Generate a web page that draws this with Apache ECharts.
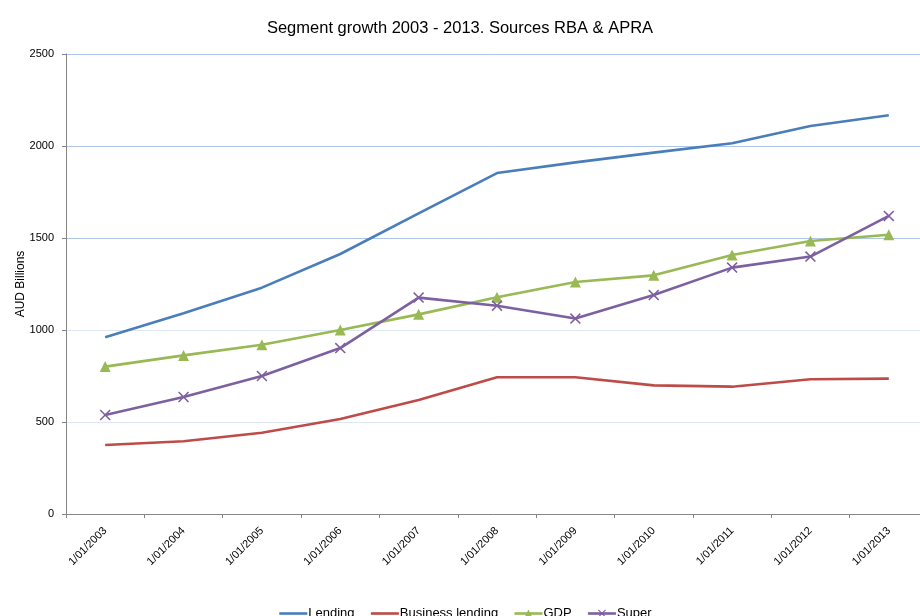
<!DOCTYPE html>
<html>
<head>
<meta charset="utf-8">
<script src="https://cdn.jsdelivr.net/npm/echarts@6/dist/echarts.min.js"></script>
<style>
  html, body { margin: 0; padding: 0; background: #fff; }
  #chart { width: 920px; height: 616px; }
</style>
</head>
<body>
<div id="chart"></div>
<script>
// Year labels along the category axis
var categories = ['1/01/2003', '1/01/2004', '1/01/2005', '1/01/2006', '1/01/2007', '1/01/2008',
                  '1/01/2009', '1/01/2010', '1/01/2011', '1/01/2012', '1/01/2013'];

// AUD billions per segment
var lending         = [960, 1091, 1230, 1413, 1634, 1853, 1911, 1964, 2015, 2109, 2167];
var businessLending = [375, 395, 442, 516, 620, 743, 743, 699, 692, 732, 736];
var gdp             = [801, 862, 920, 1000, 1085, 1178, 1261, 1297, 1408, 1484, 1518];
var superFunds      = [538, 636, 750, 902, 1176, 1132, 1062, 1190, 1339, 1399, 1620];

// Value axis ticks
var yMin = 0, yMax = 2500, yStep = 500;

var font = 'Liberation Sans, Arial, sans-serif';
var crossPath = 'path://M0,1L1,0L5,4L9,0L10,1L6,5L10,9L9,10L5,6L1,10L0,9L4,5Z';
// zero-area marker so plain lines keep a bare line in the legend
var blankPath = 'path://M0,0L1,1';

function lineSeries(name, data, color, symbol, symbolSize) {
  return {
    name: name,
    type: 'line',
    data: data,
    symbol: symbol || blankPath,
    symbolSize: symbolSize || 1,
    showSymbol: !!symbol,
    animation: false,
    lineStyle: { color: color, width: 2.6 },
    itemStyle: { color: color }
  };
}

var chart = echarts.init(document.getElementById('chart'));
chart.setOption({
  backgroundColor: '#ffffff',
  animation: false,
  title: {
    text: 'Segment growth 2003 - 2013. Sources RBA & APRA',
    left: 'center',
    top: 15,
    textStyle: { fontFamily: font, fontSize: 16.5, fontWeight: 'normal', color: '#000' }
  },
  legend: {
    top: 607,
    left: 278,
    padding: 0,
    orient: 'horizontal',
    itemWidth: 28,
    itemHeight: 10,
    itemGap: 15,
    lineStyle: { width: 2.6 },
    textStyle: { fontFamily: font, fontSize: 13, color: '#000', padding: [3, 0, 0, -4] },
    data: ['Lending', 'Business lending', 'GDP', 'Super']
  },
  grid: { left: 66, top: 54, width: 862, height: 460, containLabel: false, outerBoundsMode: 'none' },
  xAxis: {
    type: 'category',
    data: categories,
    boundaryGap: true,
    axisLine: { lineStyle: { color: '#868686', width: 1 } },
    axisTick: { show: true, length: 4, alignWithLabel: false, lineStyle: { color: '#868686' } },
    axisLabel: { rotate: 45, margin: 15, fontFamily: font, fontSize: 11, color: '#000', interval: 0 },
    splitLine: { show: false }
  },
  yAxis: {
    type: 'value',
    min: yMin,
    max: yMax,
    interval: yStep,
    name: 'AUD Billions',
    nameLocation: 'middle',
    nameGap: 39,
    nameMoveOverlap: false,
    nameTextStyle: { fontFamily: font, fontSize: 12, color: '#000' },
    axisLine: { show: true, lineStyle: { color: '#868686', width: 1 } },
    axisTick: { show: true, length: 4, lineStyle: { color: '#868686' } },
    axisLabel: {
      fontFamily: font, fontSize: 11, color: '#000', margin: 12,
      formatter: function (v) { return String(v); }
    },
    splitLine: {
      show: true,
      lineStyle: { color: ['#dde6f3', '#dde6f3', '#dde6f3', '#aec6ea', '#aec6ea', '#aec6ea'], width: 1 }
    }
  },
  series: [
    lineSeries('Lending', lending, '#4a7ebb'),
    lineSeries('Business lending', businessLending, '#be4b48'),
    lineSeries('GDP', gdp, '#98b954', 'triangle', 11),
    lineSeries('Super', superFunds, '#7d60a0', crossPath, 11)
  ]
});
</script>
</body>
</html>
